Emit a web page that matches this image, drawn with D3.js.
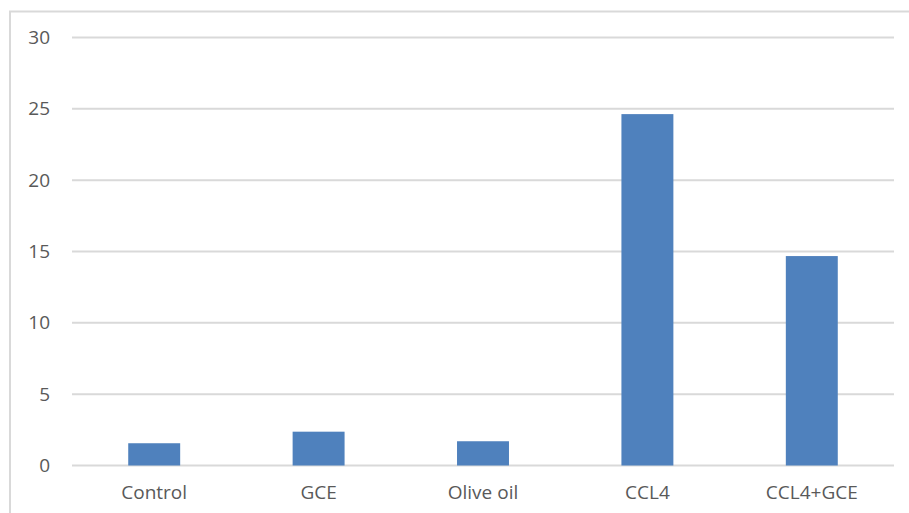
<!DOCTYPE html>
<html>
<head>
<meta charset="utf-8">
<script src="https://cdn.jsdelivr.net/npm/d3@7"></script>
<style>
  body { margin: 0; background: #fff; }
</style>
</head>
<body>
<script>
// Chart data
let categories = ["Control", "GCE", "Olive oil", "CCL4", "CCL4+GCE"];
let values = [1.56, 2.37, 1.70, 24.63, 14.68];
let yTicks = [0, 5, 10, 15, 20, 25, 30];

let width = 909;
let height = 513;
let margin = { top: 37.5, bottom: 47.5, left: 72, right: 15 };

let svg = d3.select("body")
  .append("svg")
  .attr("width", width)
  .attr("height", height)
  .style("font-family", "'Open Sans', sans-serif");

// Outer chart frame (only top and left edges visible)
svg.append("rect")
  .attr("x", 10)
  .attr("y", 11.5)
  .attr("width", width + 20)
  .attr("height", height + 20)
  .attr("fill", "#fff")
  .attr("stroke", "#d9d9d9")
  .attr("stroke-width", 2);

let xScale = d3.scaleBand()
  .domain(categories)
  .range([margin.left, width - margin.right])
  .paddingInner(0.684)
  .paddingOuter(0.342);

let yScale = d3.scaleLinear()
  .domain([0, 30])
  .range([height - margin.bottom, margin.top]);

// Gridlines
svg.append("g")
  .selectAll("line")
  .data(yTicks)
  .enter()
  .append("line")
  .attr("x1", margin.left)
  .attr("x2", width - margin.right)
  .attr("y1", d => yScale(d))
  .attr("y2", d => yScale(d))
  .attr("stroke", "#d9d9d9")
  .attr("stroke-width", 2);

// Y tick labels
svg.append("g")
  .selectAll("text")
  .data(yTicks)
  .enter()
  .append("text")
  .attr("x", 50)
  .attr("y", d => yScale(d))
  .attr("dy", "0.35em")
  .attr("text-anchor", "end")
  .attr("fill", "#595959")
  .style("font-size", "19px")
  .text(d => d);

// Bars
svg.append("g")
  .selectAll("rect")
  .data(values)
  .enter()
  .append("rect")
  .attr("x", (d, i) => xScale(categories[i]))
  .attr("y", d => yScale(d))
  .attr("width", xScale.bandwidth())
  .attr("height", d => yScale(0) - yScale(d))
  .attr("fill", "#4f81bd");

// X category labels
svg.append("g")
  .selectAll("text")
  .data(categories)
  .enter()
  .append("text")
  .attr("x", d => xScale(d) + xScale.bandwidth() / 2)
  .attr("y", 499)
  .attr("text-anchor", "middle")
  .attr("fill", "#595959")
  .style("font-size", "19px")
  .text(d => d);
</script>
</body>
</html>
